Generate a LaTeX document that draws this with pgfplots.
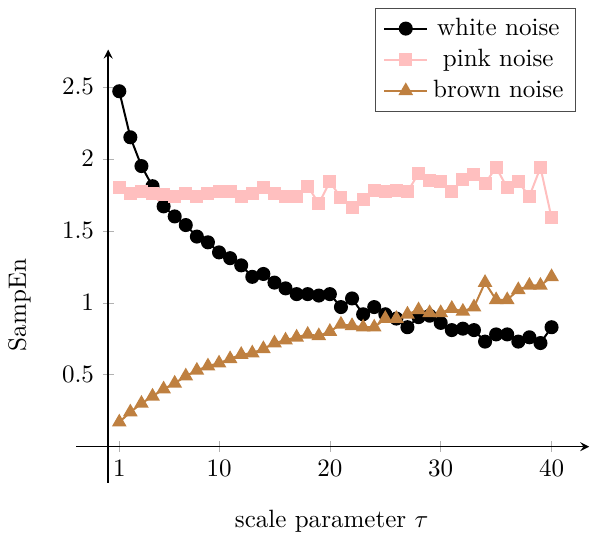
\documentclass[border=0pt]{standalone}
\usepackage{pgfplots}
\pgfplotsset{compat=1.18}

% sample entropy vs. scale
\pgfplotstableread{
tau white pink brown
1  2.47 1.80 0.17
2  2.15 1.76 0.24
3  1.95 1.77 0.30
4  1.81 1.76 0.35
5  1.67 1.75 0.40
6  1.60 1.74 0.44
7  1.54 1.76 0.49
8  1.46 1.74 0.53
9  1.42 1.76 0.56
10 1.35 1.77 0.58
11 1.31 1.77 0.61
12 1.26 1.74 0.64
13 1.18 1.76 0.65
14 1.20 1.80 0.68
15 1.14 1.76 0.72
16 1.10 1.74 0.74
17 1.06 1.74 0.76
18 1.06 1.81 0.78
19 1.05 1.69 0.77
20 1.06 1.84 0.80
21 0.97 1.73 0.85
22 1.03 1.66 0.84
23 0.92 1.72 0.83
24 0.97 1.78 0.83
25 0.92 1.77 0.89
26 0.89 1.78 0.89
27 0.83 1.77 0.92
28 0.90 1.90 0.95
29 0.91 1.85 0.93
30 0.86 1.84 0.93
31 0.81 1.77 0.96
32 0.82 1.86 0.94
33 0.81 1.89 0.97
34 0.73 1.83 1.14
35 0.78 1.94 1.02
36 0.78 1.80 1.02
37 0.73 1.84 1.09
38 0.76 1.74 1.12
39 0.72 1.94 1.12
40 0.83 1.59 1.18
}\sampen

\begin{document}
\begin{tikzpicture}
\begin{axis}[
    scale only axis,
    width=205pt, height=173pt,
    axis lines=middle,
    axis line style={semithick},
    xmin=-2.9, xmax=43.4,
    ymin=-0.25, ymax=2.76,
    xtick={1,10,20,30,40},
    ytick={0.5,1,1.5,2,2.5},
    tick style={black!30},
    xlabel={scale parameter $\tau$},
    ylabel={SampEn},
    xlabel style={at={(axis description cs:0.498,-0.09)}, anchor=center},
    ylabel style={at={(axis description cs:-0.11,0.41)}, anchor=center, rotate=90},
    legend cell align=center,
    legend style={at={(0.975,1.097)}, anchor=north east, draw=black!70},
]
\addplot[black, thick, mark=*, mark size=2.4pt] table[x=tau, y=white] {\sampen};
\addlegendentry{white noise}
\addplot[pink, thick, mark=square*, mark size=2.2pt] table[x=tau, y=pink] {\sampen};
\addlegendentry{pink noise}
\addplot[brown, thick, mark=triangle*, mark size=2.6pt] table[x=tau, y=brown] {\sampen};
\addlegendentry{brown noise}
\end{axis}
% a little room above the legend
\path (current bounding box.north) ++(0,3pt);
\end{tikzpicture}
\end{document}
